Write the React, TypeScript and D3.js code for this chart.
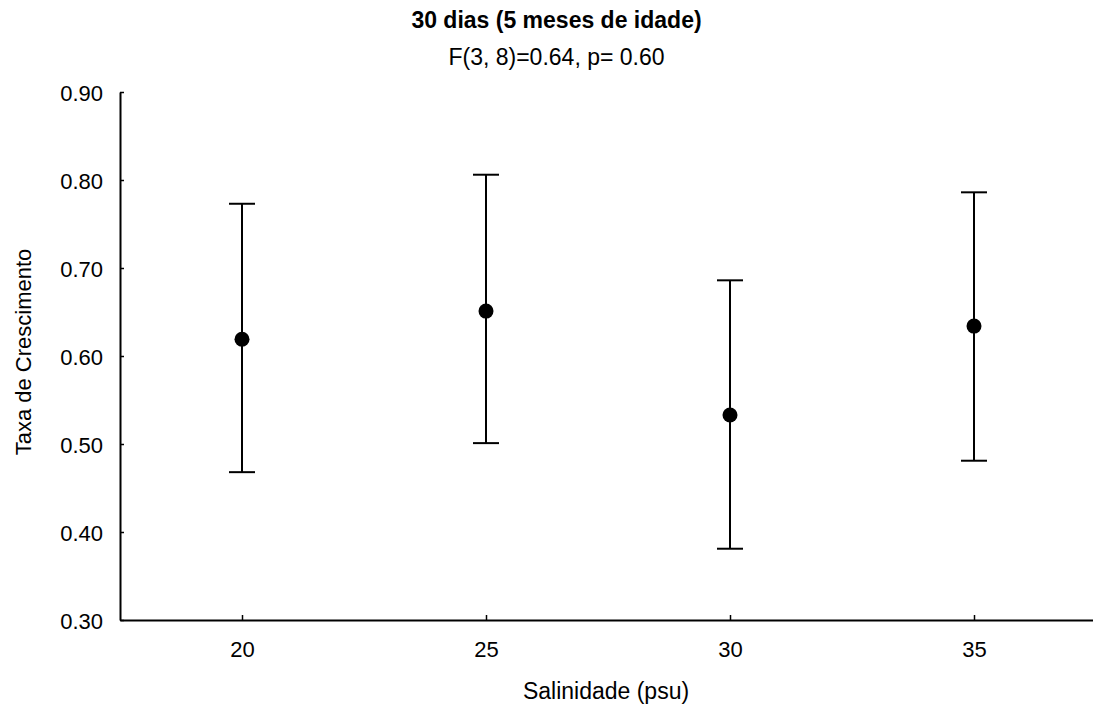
import React, { useEffect, useRef } from "react";
import * as d3 from "d3";

// data
const salinities = ["20", "25", "30", "35"];
const means = [0.619, 0.651, 0.533, 0.634];
const upper = [0.773, 0.806, 0.686, 0.786];
const lower = [0.468, 0.501, 0.381, 0.481];
const yTicks = [0.3, 0.4, 0.5, 0.6, 0.7, 0.8, 0.9];

const title = "30 dias (5 meses de idade)";
const subtitle = "F(3, 8)=0.64, p= 0.60";
const xLabel = "Salinidade (psu)";
const yLabel = "Taxa de Crescimento";

const W = 1093;
const H = 708;

const App = () => {
  const svgRef = useRef<SVGSVGElement | null>(null);

  useEffect(() => {
    const margin = { top: 92, right: -3, bottom: 88, left: 120 };
    const font = "'Liberation Sans', Arial, sans-serif";

    const svg = d3.select(svgRef.current);
    svg.selectAll("*").remove();

    const x = d3
      .scalePoint<string>()
      .domain(salinities)
      .range([margin.left, W - margin.right])
      .padding(0.5);

    const y = d3
      .scaleLinear()
      .domain([0.3, 0.9])
      .range([H - margin.bottom, margin.top]);

    // y axis
    const yAxis = svg
      .append("g")
      .attr("transform", `translate(${margin.left},0)`)
      .call(
        d3
          .axisLeft(y)
          .tickValues(yTicks)
          .tickFormat(d3.format(".2f"))
          .tickSizeInner(-4)
          .tickSizeOuter(0)
          .tickPadding(17)
      );

    // x axis
    const xAxis = svg
      .append("g")
      .attr("transform", `translate(0,${H - margin.bottom})`)
      .call(d3.axisBottom(x).tickSizeInner(-5).tickSizeOuter(0).tickPadding(21));

    [yAxis, xAxis].forEach((g) => {
      g.select(".domain").attr("stroke", "#000").attr("stroke-width", 2);
      g.selectAll(".tick line").attr("stroke", "#000").attr("stroke-width", 1.5);
      g.selectAll(".tick text")
        .attr("fill", "#000")
        .style("font-family", font)
        .style("font-size", "22px");
    });
    xAxis.selectAll(".tick text").attr("dy", "0.71em");
    yAxis.selectAll(".tick text").attr("dy", "0.4em");

    const data = salinities.map((s, i) => ({
      s,
      mean: means[i],
      hi: upper[i],
      lo: lower[i],
    }));

    const capW = 13;
    const g = svg.append("g");

    g.selectAll("line.whisker")
      .data(data)
      .enter()
      .append("line")
      .attr("x1", (d) => x(d.s)!)
      .attr("x2", (d) => x(d.s)!)
      .attr("y1", (d) => y(d.hi))
      .attr("y2", (d) => y(d.lo))
      .attr("stroke", "#000")
      .attr("stroke-width", 2);

    ["hi", "lo"].forEach((k) => {
      g.selectAll("line.cap-" + k)
        .data(data)
        .enter()
        .append("line")
        .attr("x1", (d) => x(d.s)! - capW)
        .attr("x2", (d) => x(d.s)! + capW)
        .attr("y1", (d: any) => y(d[k]))
        .attr("y2", (d: any) => y(d[k]))
        .attr("stroke", "#000")
        .attr("stroke-width", 2);
    });

    g.selectAll("circle")
      .data(data)
      .enter()
      .append("circle")
      .attr("cx", (d) => x(d.s)!)
      .attr("cy", (d) => y(d.mean))
      .attr("r", 7.5)
      .attr("fill", "#000");

    // titles
    svg
      .append("text")
      .attr("x", W / 2 + 10)
      .attr("y", 28)
      .attr("text-anchor", "middle")
      .style("font-family", font)
      .style("font-size", "23px")
      .style("font-weight", "bold")
      .text(title);

    svg
      .append("text")
      .attr("x", W / 2 + 10)
      .attr("y", 65)
      .attr("text-anchor", "middle")
      .style("font-family", font)
      .style("font-size", "23px")
      .text(subtitle);

    svg
      .append("text")
      .attr("x", 606)
      .attr("y", 699)
      .attr("text-anchor", "middle")
      .style("font-family", font)
      .style("font-size", "23px")
      .text(xLabel);

    svg
      .append("text")
      .attr("transform", `translate(31,352) rotate(-90)`)
      .attr("text-anchor", "middle")
      .style("font-family", font)
      .style("font-size", "22px")
      .text(yLabel);
  }, []);

  return (
    <svg
      ref={svgRef}
      width={W}
      height={H}
      style={{ position: "absolute", left: 0, top: 0, background: "#fff" }}
    />
  );
};

export default App;
